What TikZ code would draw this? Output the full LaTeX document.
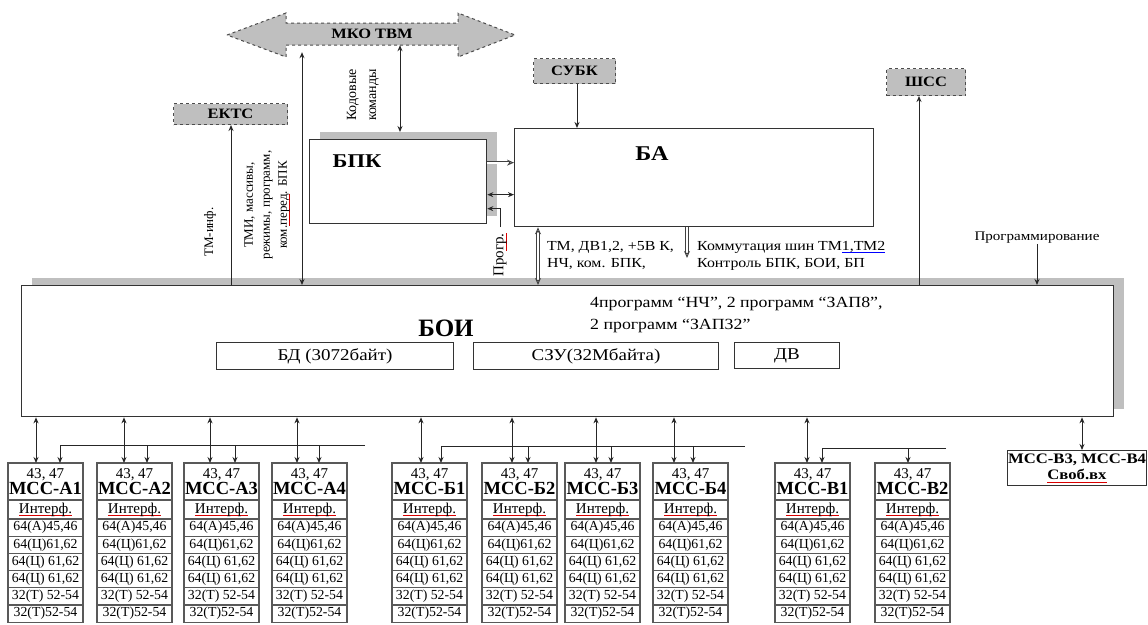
\documentclass[tikz,border=0pt]{standalone}
\usepackage{fontspec}
\setmainfont[FakeStretch=1.15]{Liberation Serif}
\newfontfamily\plainserif{Liberation Serif}
\usetikzlibrary{arrows.meta,positioning,shadows}

% spell-check underline as it shows in the source
\newsavebox\spbox
\newcommand{\spellchk}[2][red!85!black]{\sbox\spbox{#2}\rlap{\textcolor{#1}{\rule[-0.45ex]{\wd\spbox}{0.8pt}}}\usebox\spbox}

\tikzset{
  blk/.style={draw=black!80, line width=1.3pt, fill=white, inner sep=0pt},
  shadowed/.style={blk, general shadow={fill=black!25, shadow xshift=10pt, shadow yshift=8pt}},
  extbox/.style={draw=black!70, dashed, line width=1pt, fill=black!25, inner sep=0pt,
    font=\fontsize{14.3}{16}\selectfont\bfseries},
  subbox/.style={draw=black!80, line width=1pt, fill=white, inner sep=0pt,
    font=\fontsize{16.5}{18}\selectfont},
  lbl/.style={inner sep=0pt, align=left, font=\fontsize{13.8}{17}\selectfont},
  vlbl/.style={inner sep=0pt, align=center, rotate=90, font=\plainserif\fontsize{13}{17}\selectfont},
  modhead/.style={draw=black!65, line width=1.2pt, minimum width=75pt,
    minimum height=37pt, inner sep=0pt, outer sep=0pt, align=center},
  modrow/.style={draw=black!65, line width=1.2pt, minimum width=75pt,
    minimum height=17.2pt, inner sep=0pt, outer sep=0pt, font=\plainserif\fontsize{13.8}{15}\selectfont},
  lnk/.style={-{Stealth[length=6pt,width=5pt]}, line width=1pt, draw=black!85},
  dlnk/.style={{Stealth[length=6pt,width=5pt]}-{Stealth[length=6pt,width=5pt]}, line width=1pt, draw=black!85},
  hlnk/.style={-{Stealth[open,length=7pt,width=6pt]}, draw=black!75, line width=0.9pt,
    double=white, double distance=1.8pt},
  dhlnk/.style={hlnk, {Stealth[open,length=7pt,width=6pt]}-{Stealth[open,length=7pt,width=6pt]}},
  bus/.style={line width=1pt, draw=black!85}
}

\begin{document}
\begin{tikzpicture}[x=1pt,y=-1pt]
\useasboundingbox (0,0) rectangle (1148,624);

% external buses
\draw[draw=black!70, dashed, line width=1pt, fill=black!25]
  (227,35) -- (286,13) -- (286,23) -- (458,23) -- (458,13) -- (515,35)
  -- (458,57) -- (458,45) -- (286,45) -- (286,57) -- cycle;
\node[inner sep=0pt, minimum width=172pt, minimum height=22pt,
  font=\fontsize{14.3}{16}\selectfont\bfseries] (mko) at (372,34) {МКО ТВМ};
\node[extbox, minimum width=114pt, minimum height=21pt, anchor=north west] (ektc) at (173,103) {ЕКТС};
\node[extbox, minimum width=82pt, minimum height=25pt, anchor=north west] (subk) at (533,58) {СУБК};
\node[extbox, minimum width=79pt, minimum height=27pt, anchor=north west] (shss) at (886,68) {ШСС};

% main blocks
\node[shadowed, minimum width=177pt, minimum height=84pt, anchor=north west] (bpk) at (309,139) {};
\node[font=\fontsize{19.5}{21}\selectfont\bfseries] (bpkt) at (357,161) {БПК};
\node[blk, minimum width=359pt, minimum height=98pt, anchor=north west] (ba) at (514,128) {};
\node[font=\fontsize{21}{23}\selectfont\bfseries] (bat) at (652,154) {БА};
\node[shadowed, minimum width=1092pt, minimum height=131pt, anchor=north west] (boi) at (21,285) {};
\node[font=\plainserif\fontsize{25}{27}\selectfont\bfseries] (boit) at (446,328) {БОИ};
\node[subbox, minimum width=237pt, minimum height=27pt, anchor=north west] (bd) at (216,342) {БД (3072байт)};
\node[subbox, minimum width=245pt, minimum height=27pt, anchor=north west] (szu) at (473,342) {СЗУ(32Мбайта)};
\node[subbox, minimum width=105pt, minimum height=26pt, anchor=north west] (dv) at (734,342) {ДВ};
\node[lbl, anchor=north west, font=\fontsize{15.5}{22}\selectfont] (progs) at (590,297)
  {4программ “НЧ”, 2 программ “ЗАП8”,\\2 программ “ЗАП32”};

% links above БОИ
\draw[lnk] (231,0 |- boi.north) -- (231,0 |- ektc.south);
\node[vlbl] (tminf) at (210,232) {ТМ-инф.};
\draw[dlnk, shorten >=7pt] (302,0 |- boi.north) -- (302,0 |- mko.south);
\node[vlbl] (tmi) at (267,205)
  {ТМИ, массивы,\\режимы, программ,\\ком.\spellchk{перед}. БПК};
\draw[dlnk, shorten <=7pt] (400,0 |- bpk.north) -- (400,0 |- mko.south);
\node[vlbl, font=\plainserif\fontsize{14}{20}\selectfont] (kod) at (363,95) {Кодовые\\команды};
\draw[lnk] (subk.south -| 577,0) -- (577,0 |- ba.north);
\draw[hlnk] ([yshift=19pt]bpk.east) -- ([yshift=19pt]bpk.east -| ba.west);
\draw[dlnk] ([yshift=-13pt]bpk.east) -- ([yshift=-13pt]bpk.east -| ba.west);
\node[vlbl, font=\plainserif\fontsize{15}{17}\selectfont] (prog) at (500,255) {Про\spellchk{гр.}};
\draw[lnk] ([yshift=6pt]prog.east) |- ([yshift=-27pt]bpk.east);
\draw[dhlnk] (538,0 |- ba.south) -- (538,0 |- boi.north);
\node[lbl, anchor=north west] (tmdv) at (547,241) {ТМ, ДВ1,2, +5В К,\\НЧ, ком. БПК,};
\coordinate (komm) at (687,258);
\draw[hlnk] (687,0 |- ba.south) -- (komm);
\node[lbl, anchor=north west] (kommt) at (697,241)
  {Коммутация шин ТМ\spellchk[blue]{1,ТМ2}\\Контроль БПК, БОИ, БП};
\draw[lnk] (boi.north -| 919,0) -- (919,0 |- shss.south);
\node[lbl, font=\fontsize{13.1}{15}\selectfont] (prgm) at (1037,238) {Программирование};
\draw[lnk] (1037,0 |- prgm.south) -- (1037,0 |- boi.north);

% modules
\foreach \nm/\xx/\lab in {a1/8/А1, a2/97/А2, a3/184/А3, a4/272/А4,
    b1/392/Б1, b2/482/Б2, b3/565/Б3, b4/653/Б4, v1/775/В1, v2/875/В2} {
  \node[modhead, anchor=north west] (\nm) at (\xx,463)
    {{\plainserif\fontsize{15}{16}\selectfont 43, 47}\\{\plainserif\fontsize{18.5}{19}\selectfont\bfseries МСС-\lab}};
  \node[modrow, below=0pt of \nm, minimum height=19pt, font=\plainserif\fontsize{15}{17}\selectfont] (\nm-if) {\spellchk{Интерф.}};
  \node[modrow, below=0pt of \nm-if] (\nm-r1) {64(А)45,46};
  \node[modrow, below=0pt of \nm-r1] (\nm-r2) {64(Ц)61,62};
  \node[modrow, below=0pt of \nm-r2] (\nm-r3) {64(Ц) 61,62};
  \node[modrow, below=0pt of \nm-r3] (\nm-r4) {64(Ц) 61,62};
  \node[modrow, below=0pt of \nm-r4] (\nm-r5) {32(Т) 52-54};
  \node[modrow, below=0pt of \nm-r5] (\nm-r6) {32(Т)52-54};
}
\node[blk, line width=1pt, minimum width=139pt, minimum height=35pt, anchor=north west, align=center,
  font=\fontsize{14.5}{16}\selectfont\bfseries] (v34) at (1007,450) {МСС-В3, МСС-В4\\\spellchk{Своб.вх}};

% links below БОИ
\foreach \nm/\dx in {a1/36, a2/124, a3/210, a4/297, b1/421, b2/512, b3/596, b4/674, v1/807}
  \draw[dlnk] (\dx,0 |- boi.south) -- (\dx,0 |- \nm.north);
\draw[dlnk] (1082,0 |- boi.south) -- (1082,0 |- v34.north);

\coordinate (busa) at (365,445);
\coordinate (busb) at (745,446);
\coordinate (busv) at (946,448);
\draw[bus, -{Stealth[length=6pt,width=5pt]}] (busa) -- (60,445) -- (60,0 |- a1.north);
\foreach \nm/\bx in {a2/147, a3/235, a4/319}
  \draw[lnk] (\bx,0 |- busa) -- (\bx,0 |- \nm.north);
\draw[bus, -{Stealth[length=6pt,width=5pt]}] (busb) -- (441,446) -- (441,0 |- b1.north);
\foreach \nm/\bx in {b2/528, b3/611, b4/693}
  \draw[lnk] (\bx,0 |- busb) -- (\bx,0 |- \nm.north);
\draw[bus, -{Stealth[length=6pt,width=5pt]}] (busv) -- (822,448) -- (822,0 |- v1.north);
\draw[lnk] (908,0 |- busv) -- (908,0 |- v2.north);
\end{tikzpicture}
\end{document}
